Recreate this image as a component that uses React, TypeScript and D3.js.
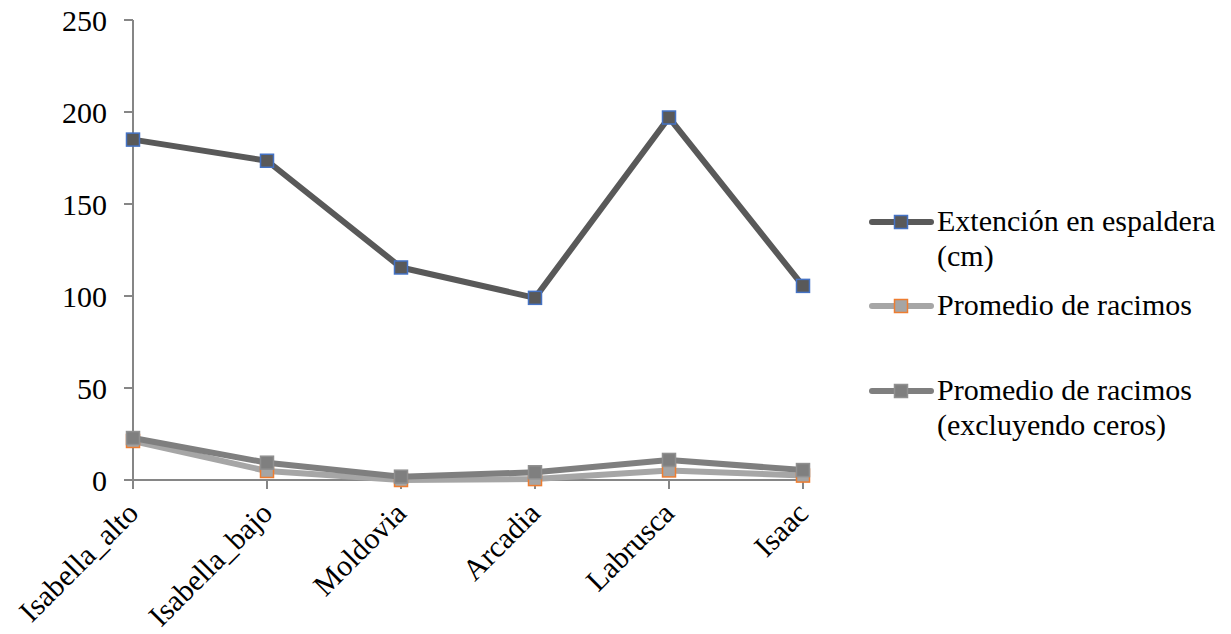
import React from "react";
import * as d3 from "d3";

const categories = ["Isabella_alto", "Isabella_bajo", "Moldovia", "Arcadia", "Labrusca", "Isaac"];
const extension = [185, 173.5, 115.5, 99, 197, 105.5];
const promedio = [21.2, 4.9, 0, 0.5, 5.2, 2.4];
const promedioSinCeros = [22.8, 9.4, 1.8, 4.2, 10.9, 5.4];
const yTicks = [0, 50, 100, 150, 200, 250];

const seriesDefs = [
  { name: ["Extención en espaldera", "(cm)"], values: extension, line: "#595959", fill: "#595959", border: "#4472c4" },
  { name: ["Promedio de racimos"], values: promedio, line: "#a6a6a6", fill: "#a5a5a5", border: "#ed7d31" },
  { name: ["Promedio de racimos", "(excluyendo ceros)"], values: promedioSinCeros, line: "#7f7f7f", fill: "#7f7f7f", border: "#909090" },
];

const W = 1231;
const H = 634;
const textStyle = { fontFamily: "Liberation Serif", fontSize: 30, fill: "#000" };

export default function App() {
  const x = d3.scalePoint<string>().domain(categories).range([133, 803]);
  const y = d3.scaleLinear().domain([0, 250]).range([480, 20]);
  const line = d3
    .line<number>()
    .x((_, i) => x(categories[i]) as number)
    .y((d) => y(d));
  const axisColor = "#868686";
  const ms = 13;
  const legendY = [222, 306, 391];

  return (
    <svg width={W} height={H} style={{ position: "absolute", left: 0, top: 0, background: "#fff" }}>
      {/* y axis */}
      <line x1={133} x2={133} y1={y(250)} y2={y(0)} stroke={axisColor} strokeWidth={2} />
      {yTicks.map((t) => (
        <g key={t}>
          <line x1={124} x2={133} y1={y(t)} y2={y(t)} stroke={axisColor} strokeWidth={2} />
          <text x={107} y={y(t)} dy="0.35em" textAnchor="end" style={textStyle}>
            {t}
          </text>
        </g>
      ))}
      {/* x axis */}
      <line x1={133} x2={x(categories[categories.length - 1]) as number} y1={y(0)} y2={y(0)} stroke={axisColor} strokeWidth={2} />
      {categories.map((c) => {
        const cx = x(c) as number;
        return (
          <g key={c}>
            <line x1={cx} x2={cx} y1={y(0)} y2={y(0) + 9} stroke={axisColor} strokeWidth={2} />
            <text transform={`translate(${cx + 7},${y(0) + 35}) rotate(-45)`} textAnchor="end" style={textStyle}>
              {c}
            </text>
          </g>
        );
      })}
      {/* series */}
      {seriesDefs.map((s, si) => (
        <g key={si}>
          <path d={line(s.values) as string} fill="none" stroke={s.line} strokeWidth={6} strokeLinejoin="round" />
          {s.values.map((v, i) => (
            <rect
              key={i}
              x={(x(categories[i]) as number) - ms / 2}
              y={y(v) - ms / 2}
              width={ms}
              height={ms}
              fill={s.fill}
              stroke={s.border}
              strokeWidth={1.5}
            />
          ))}
        </g>
      ))}
      {/* legend */}
      {seriesDefs.map((s, si) => {
        const ly = legendY[si];
        return (
          <g key={si}>
            <line x1={872} x2={931} y1={ly} y2={ly} stroke={s.line} strokeWidth={6} strokeLinecap="round" />
            <rect x={901 - ms / 2} y={ly - ms / 2} width={ms} height={ms} fill={s.fill} stroke={s.border} strokeWidth={1.5} />
            {s.name.map((t, ti) => (
              <text key={ti} x={937} y={ly + 9 + ti * 35} style={textStyle}>
                {t}
              </text>
            ))}
          </g>
        );
      })}
    </svg>
  );
}
